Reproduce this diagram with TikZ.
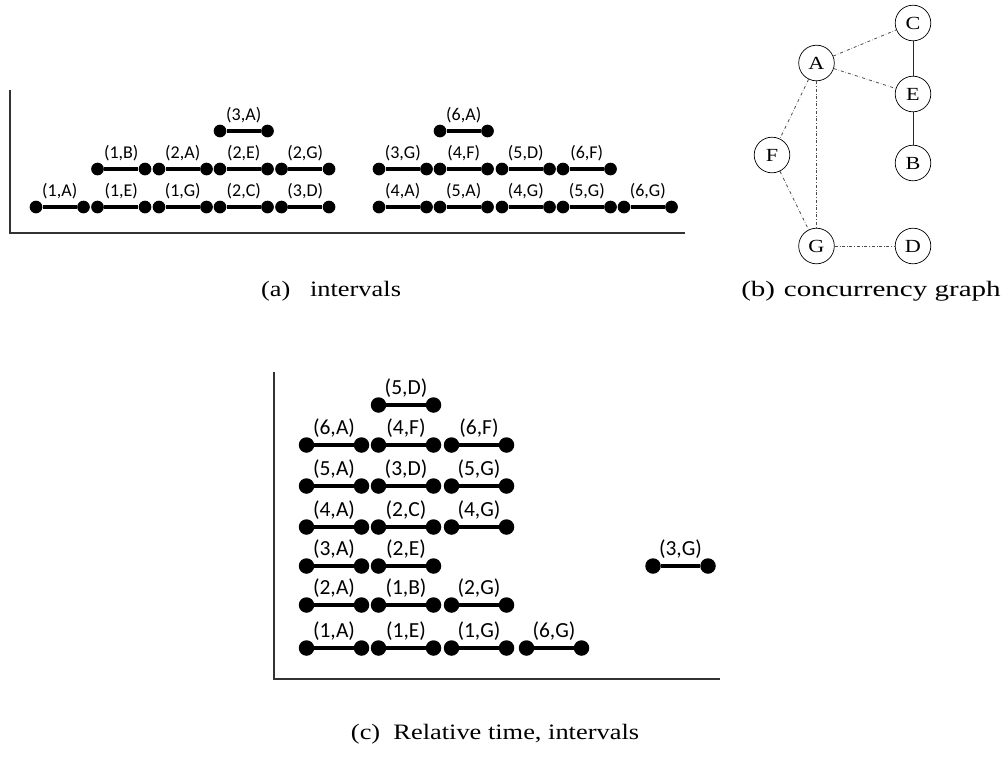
\documentclass[tikz,border=0pt]{standalone}
\usepackage{fontspec}
\setmainfont{Liberation Serif}
\newfontfamily\calib{Carlito}
\usetikzlibrary{calc,positioning}
\newcommand\xstretch[2]{\scalebox{#1}[1]{#2}}
\tikzset{
  tick/.style={circle, fill=black, inner sep=0pt, minimum size=12.7pt},
  bigtick/.style={tick, minimum size=15.5pt},
  bar/.style={line width=3.2pt},
  bigbar/.style={line width=3.8pt},
  ivlabel/.style={font=\calib\fontsize{18}{18}\selectfont, inner sep=0pt},
  bigivlabel/.style={font=\calib\fontsize{21.5}{21.5}\selectfont, inner sep=0pt},
  axis/.style={line width=1.1pt, draw=black!80},
  vertex/.style={circle, draw, line width=0.7pt, minimum size=35.6pt,
    inner sep=0pt, font=\fontsize{18.5}{18.5}\selectfont},
  conc/.style={dash dot, draw=black!70, line width=0.8pt},
  seq/.style={draw=black!85, line width=0.8pt},
  caption/.style={font=\fontsize{22}{24}\selectfont, inner sep=0pt, anchor=base}
}

\begin{document}
\begin{tikzpicture}[x=1pt, y=-1pt]
  \useasboundingbox (0,0) rectangle (1003,764);

  % ==== (a) intervals ====
  \coordinate (aO) at (10,233);
  \coordinate (aY) at (10,90);
  \coordinate (aX) at (685,233);
  \draw[axis] (aY) -- (aO) -- (aX);
  \foreach \x/\y/\lab [count=\n] in {
      36/207/{(1,A)}, 97.5/207/{(1,E)}, 159/207/{(1,G)}, 220/207/{(2,C)}, 281.5/207/{(3,D)},
      379/207/{(4,A)}, 440/207/{(5,A)}, 502/207/{(4,G)}, 563/207/{(5,G)}, 624/207/{(6,G)},
      97.5/169/{(1,B)}, 159/169/{(2,A)}, 220/169/{(2,E)}, 281.5/169/{(2,G)},
      379/169/{(3,G)}, 440/169/{(4,F)}, 502/169/{(5,D)}, 563/169/{(6,F)},
      220/131/{(3,A)}, 440/131/{(6,A)}} {
    \node[tick] (a\n l) at (\x,\y) {};
    \node[tick] (a\n r) at (\x+47.5,\y) {};
    \draw[bar] (a\n l) -- (a\n r);
    \node[ivlabel] (a\n t) at ($(a\n l)!0.5!(a\n r)+(0,-15.7)$) {\lab};
  }
  \node[caption] (capa) at (331,296) {\xstretch{1.2}{(a)\hspace{0.75em}intervals}};

  % ==== (b) concurrency graph ====
  \node[vertex] (A) at (816.5,63) {\xstretch{1.2}{A}};
  \node[vertex] (C) at (913,23)   {\xstretch{1.2}{C}};
  \node[vertex] (E) at (913,94)   {\xstretch{1.2}{E}};
  \node[vertex] (B) at (913,163)  {\xstretch{1.2}{B}};
  \node[vertex] (F) at (772,155)  {\xstretch{1.2}{F}};
  \node[vertex] (G) at (816.5,246) {\xstretch{1.2}{G}};
  \node[vertex] (D) at (913,246)  {\xstretch{1.2}{D}};
  \draw[conc] (A) -- (C);
  \draw[conc] (A) -- (E);
  \draw[conc] (A) -- (F);
  \draw[conc] (A) -- (G);
  \draw[conc] (F) -- (G);
  \draw[conc] (G) -- (D);
  \draw[seq] (C) -- (E);
  \draw[seq] (E) -- (B);
  \node[caption] (capb) at (871,296) {\xstretch{1.32}{(b)\hspace{0.3em}concurrency graph}};

  % ==== (c) relative time ====
  \coordinate (cO) at (274,679);
  \coordinate (cY) at (274,372);
  \coordinate (cX) at (720,679);
  \draw[axis] (cY) -- (cO) -- (cX);
  \foreach \x/\y/\lab [count=\n] in {
      306.5/648/{(1,A)}, 378.5/648/{(1,E)}, 451.5/648/{(1,G)}, 526.5/648/{(6,G)},
      306.5/605/{(2,A)}, 378.5/605/{(1,B)}, 451.5/605/{(2,G)},
      306.5/566/{(3,A)}, 378.5/566/{(2,E)}, 653/566/{(3,G)},
      306.5/527/{(4,A)}, 378.5/527/{(2,C)}, 451.5/527/{(4,G)},
      306.5/486/{(5,A)}, 378.5/486/{(3,D)}, 451.5/486/{(5,G)},
      306.5/445/{(6,A)}, 378.5/445/{(4,F)}, 451.5/445/{(6,F)},
      378.5/405/{(5,D)}} {
    \node[bigtick] (c\n l) at (\x,\y) {};
    \node[bigtick] (c\n r) at (\x+55,\y) {};
    \draw[bigbar] (c\n l) -- (c\n r);
    \node[bigivlabel] (c\n t) at ($(c\n l)!0.5!(c\n r)+(0,-17)$) {\lab};
  }
  \node[caption] (capc) at (495,739) {\xstretch{1.2}{(c)\hspace{0.5em}Relative time, intervals}};
\end{tikzpicture}
\end{document}
